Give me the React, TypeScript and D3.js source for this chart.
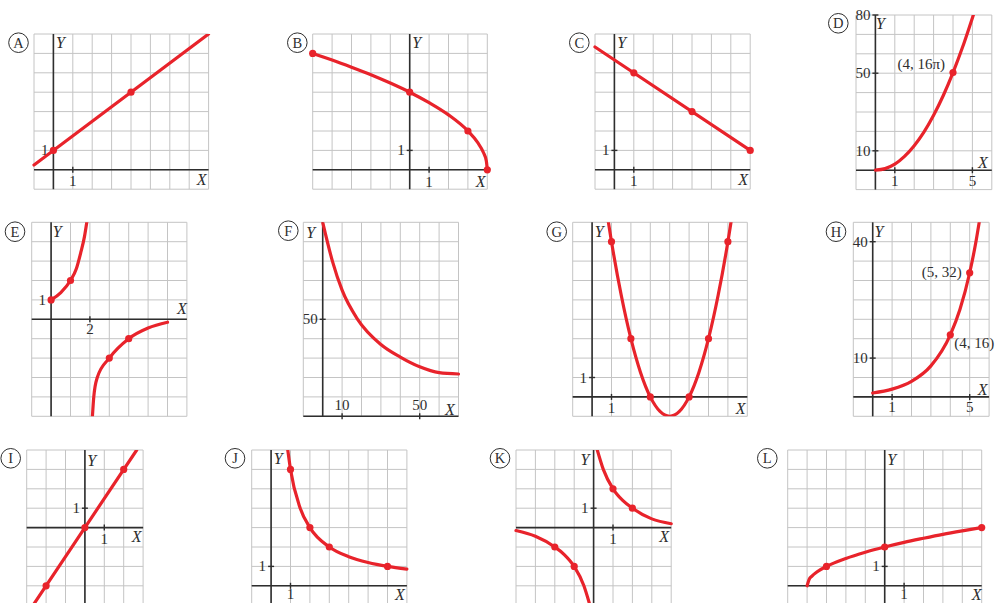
import { useEffect, useRef } from "react";
import * as d3 from "d3";

type Pt = [number, number];

// ---- values ----
const curveA: Pt[] = [[-1, 0.25], [8, 7]];
const dotsA: Pt[] = [[0, 1], [4, 4]];

const curveB: Pt[] = [
  [-5, 6], [-4, 5.66], [-3, 5.29], [-2, 4.9], [-1, 4.47], [0, 4], [1, 3.46],
  [2, 2.83], [3, 2], [3.5, 1.41], [3.8, 0.89], [3.95, 0.45], [4, 0]
];
const dotsB: Pt[] = [[-5, 6], [0, 4], [3, 2], [4, 0]];

const curveC: Pt[] = [[-1, 6.33], [7, 1]];
const dotsC: Pt[] = [[1, 5], [4, 3], [7, 1]];

const curveD: Pt[] = [
  [0, 0], [0.5, 0.8], [1, 3.1], [1.5, 7.1], [2, 12.6], [2.5, 19.6], [3, 28.3],
  [3.5, 38.5], [4, 50.3], [4.5, 63.6], [5, 78.5], [5.05, 80]
];
const dotsD: Pt[] = [[4, 50.3]];

const curveE1: Pt[] = [[0, 1], [0.5, 1.38], [1, 2], [1.3, 2.6], [1.52, 3.4], [1.72, 4.26], [1.84, 5]];
const curveE2: Pt[] = [[2.13, -5], [2.2, -4], [2.38, -3], [3, -2], [4, -1], [5, -0.45], [6, -0.15]];
const dotsE: Pt[] = [[0, 1], [1, 2], [3, -2], [4, -1]];

const curveF: Pt[] = [
  [0, 100], [5, 80], [10, 65], [18, 50], [30, 37], [40, 30.5], [50, 25.5], [60, 22.5], [70, 21.8]
];

const curveG: Pt[] = [
  [0.84, 9], [1, 8], [1.5, 5.25], [2, 3], [2.5, 1.25], [3, 0], [3.5, -0.75], [4, -1],
  [4.5, -0.75], [5, 0], [5.5, 1.25], [6, 3], [6.5, 5.25], [7, 8], [7.16, 9]
];
const dotsG: Pt[] = [[1, 8], [2, 3], [3, 0], [5, 0], [6, 3], [7, 8]];

const curveH: Pt[] = [[0, 1], [1, 2], [2, 4], [3, 8], [4, 16], [4.5, 22.6], [5, 32], [5.3, 39.4], [5.49, 45]];
const dotsH: Pt[] = [[4, 16], [5, 32]];

const curveI: Pt[] = [[-2.67, -4], [2.67, 4]];
const dotsI: Pt[] = [[-2, -3], [0, 0], [2, 3]];

const curveJ: Pt[] = [[0.86, 7], [1, 6], [1.5, 4], [2, 3], [3, 2], [4, 1.5], [5, 1.2], [6, 1], [7, 0.86]];
const dotsJ: Pt[] = [[1, 6], [2, 3], [3, 2], [6, 1]];

const curveK1: Pt[] = [[0.19, 4], [0.5, 3], [1, 2], [1.5, 1.4], [2, 1], [3, 0.45], [4, 0.2]];
const curveK2: Pt[] = [[-4, -0.15], [-3, -0.45], [-2, -1], [-1.5, -1.4], [-1, -2], [-0.5, -3], [-0.19, -4]];
const dotsK: Pt[] = [[1, 2], [2, 1], [-2, -1], [-1, -2]];

const curveL: Pt[] = [
  [-4, 0], [-3.9, 0.32], [-3.75, 0.5], [-3.5, 0.71], [-3, 1], [-2, 1.41], [-1, 1.73],
  [0, 2], [1, 2.24], [2, 2.45], [3, 2.65], [4, 2.83], [5, 3]
];
const dotsL: Pt[] = [[-3, 1], [0, 2], [5, 3]];

const letters = ["A", "B", "C", "D", "E", "F", "G", "H", "I", "J", "K", "L"];
const xTickValues = [[1], [1], [1], [1, 5], [2], [10, 50], [1], [1, 5], [1], [1], [1], [1]];
const yTickValues = [[1], [1], [1], [10, 50, 80], [1], [50], [1], [10, 40], [1], [1], [1], [1]];

const notesD = [{ at: [4, 50.3] as Pt, text: "(4, 16π)" }];
const notesH = [
  { at: [5, 32] as Pt, text: "(5, 32)" },
  { at: [4, 16] as Pt, text: "(4, 16)" }
];

// ---- layout of the twelve small grids ----
const CELL = 19.4;
const panels = [
  { left: 34, top: 34, cols: 9, rows: 8, x0: -1, xs: 1, y0: -1, ys: 1, curves: [curveA], dots: dotsA, badge: [18.5, 42.7], xl: [-7, 15], yl: [7, 14], xtd: 16 },
  { left: 312.7, top: 34, cols: 9, rows: 8, x0: -5, xs: 1, y0: -1, ys: 1, curves: [curveB], dots: dotsB, badge: [297.3, 42.7], xl: [-6.6, 17], yl: [7, 14], xtd: 17 },
  { left: 595, top: 34, cols: 8, rows: 8, x0: -1, xs: 1, y0: -1, ys: 1, curves: [curveC], dots: dotsC, badge: [579.3, 42.7], xl: [-7, 15], yl: [7.3, 14], xtd: 16 },
  { left: 856, top: 15, cols: 7, rows: 9, x0: -1, xs: 1, y0: -10, ys: 10, curves: [curveD], dots: dotsD, badge: [838.3, 23.3], xl: [-9, -2], yl: [5, 13.5], xtd: 16, notes: notesD },
  { left: 31.7, top: 222.3, cols: 8, rows: 10, x0: -1, xs: 1, y0: -5, ys: 1, curves: [curveE1, curveE2], dots: dotsE, badge: [15, 231.7], xl: [-5, -5], yl: [6.2, 14.7], xtd: 15 },
  { left: 303.3, top: 222.3, cols: 8, rows: 10, x0: -10, xs: 10, y0: 0, ys: 10, curves: [curveF], dots: [] as Pt[], badge: [288.3, 230.7], xl: [-8.5, -1.5], yl: [-12, 16], xtd: -6 },
  { left: 572.7, top: 222.3, cols: 9, rows: 10, x0: -1, xs: 1, y0: -1, ys: 1, curves: [curveG], dots: dotsG, badge: [556.7, 231.7], xl: [-6.6, 17], yl: [7.2, 14.7], xtd: 16 },
  { left: 853.3, top: 222.3, cols: 7, rows: 10, x0: -1, xs: 1, y0: -5, ys: 5, curves: [curveH], dots: dotsH, badge: [836, 231.7], xl: [-6.4, -2], yl: [6.3, 14.7], xtd: 15, notes: notesH },
  { left: 26.7, top: 450, cols: 6, rows: 8, x0: -3, xs: 1, y0: -4, ys: 1, curves: [curveI], dots: dotsI, badge: [10.7, 458.3], xl: [-6.4, 14], yl: [6.8, 16], xtd: 16 },
  { left: 251.7, top: 450, cols: 8, rows: 8, x0: -1, xs: 1, y0: -1, ys: 1, curves: [curveJ], dots: dotsJ, badge: [235, 458.3], xl: [-7, 14.5], yl: [7.2, 13.5], xtd: 13.5 },
  { left: 516, top: 450, cols: 8, rows: 8, x0: -4, xs: 1, y0: -4, ys: 1, curves: [curveK1, curveK2], dots: dotsK, badge: [500, 458.3], xl: [-7, 14], yl: [-8.6, 15], xtd: 16 },
  { left: 787.7, top: 450, cols: 10, rows: 8, x0: -5, xs: 1, y0: -1, ys: 1, curves: [curveL], dots: dotsL, badge: [767.3, 458.3], xl: [-5, 14], yl: [7, 15], xtd: 13.5 }
];

const RED = "#e8232b";
const INK = "#2e2e2e";
const FONT = "'Liberation Serif', 'DejaVu Serif', serif";

export default function App() {
  const svgRef = useRef<SVGSVGElement>(null);

  useEffect(() => {
    const width = 1005;
    const height = 603;
    const svg = d3.select(svgRef.current);
    svg.selectAll("*").remove();
    svg.attr("width", width).attr("height", height);

    svg.append("rect").attr("width", width).attr("height", height).attr("fill", "#ffffff");
    const defs = svg.append("defs");

    panels.forEach((p: any, i) => {
      const right = p.left + p.cols * CELL;
      const bottom = p.top + p.rows * CELL;
      const x = d3.scaleLinear().domain([p.x0, p.x0 + p.cols * p.xs]).range([p.left, right]);
      const y = d3.scaleLinear().domain([p.y0, p.y0 + p.rows * p.ys]).range([bottom, p.top]);
      const g = svg.append("g");

      // grid
      g.selectAll("line.vg")
        .data(d3.range(p.cols + 1))
        .enter()
        .append("line")
        .attr("x1", d => x(p.x0 + d * p.xs))
        .attr("x2", d => x(p.x0 + d * p.xs))
        .attr("y1", p.top)
        .attr("y2", bottom)
        .attr("stroke", "#c4c4c4")
        .attr("stroke-width", 1);

      g.selectAll("line.hg")
        .data(d3.range(p.rows + 1))
        .enter()
        .append("line")
        .attr("y1", d => y(p.y0 + d * p.ys))
        .attr("y2", d => y(p.y0 + d * p.ys))
        .attr("x1", p.left)
        .attr("x2", right)
        .attr("stroke", "#c4c4c4")
        .attr("stroke-width", 1);

      // axes
      const ax = x(0);
      const ay = y(0);
      g.append("line").attr("x1", p.left).attr("x2", right).attr("y1", ay).attr("y2", ay)
        .attr("stroke", INK).attr("stroke-width", 1.6);
      g.append("line").attr("x1", ax).attr("x2", ax).attr("y1", p.top).attr("y2", bottom)
        .attr("stroke", INK).attr("stroke-width", 1.6);

      // ticks and labels
      xTickValues[i].forEach(v => {
        g.append("line").attr("x1", x(v)).attr("x2", x(v)).attr("y1", ay - 3).attr("y2", ay + 3)
          .attr("stroke", INK).attr("stroke-width", 1.4);
        g.append("text")
          .attr("x", x(v))
          .attr("y", ay + p.xtd)
          .attr("text-anchor", "middle")
          .attr("font-family", FONT)
          .attr("font-size", "15px")
          .attr("fill", INK)
          .text(v);
      });
      yTickValues[i].forEach(v => {
        g.append("line").attr("x1", ax - 3).attr("x2", ax + 3).attr("y1", y(v)).attr("y2", y(v))
          .attr("stroke", INK).attr("stroke-width", 1.4);
        g.append("text")
          .attr("x", ax - 5)
          .attr("y", y(v) + 5)
          .attr("text-anchor", "end")
          .attr("font-family", FONT)
          .attr("font-size", "15px")
          .attr("fill", INK)
          .text(v);
      });

      // axis names
      g.append("text")
        .attr("x", right + p.xl[0])
        .attr("y", ay + p.xl[1])
        .attr("text-anchor", "middle")
        .attr("font-family", FONT)
        .attr("font-style", "italic")
        .attr("font-size", "16px")
        .attr("fill", INK)
        .text("X");
      g.append("text")
        .attr("x", ax + p.yl[0])
        .attr("y", p.top + p.yl[1])
        .attr("text-anchor", "middle")
        .attr("font-family", FONT)
        .attr("font-style", "italic")
        .attr("font-size", "16px")
        .attr("fill", INK)
        .text("Y");

      // curves, clipped to the grid
      const clipId = `clip-${i}`;
      defs.append("clipPath").attr("id", clipId)
        .append("rect").attr("x", p.left - 2).attr("y", p.top).attr("width", right - p.left + 4).attr("height", bottom - p.top);

      const line = d3.line<Pt>().x(d => x(d[0])).y(d => y(d[1])).curve(d3.curveMonotoneX);
      g.append("g").attr("clip-path", `url(#${clipId})`)
        .selectAll("path")
        .data(p.curves as Pt[][])
        .enter()
        .append("path")
        .attr("d", d => line(d))
        .attr("fill", "none")
        .attr("stroke", RED)
        .attr("stroke-width", 3.2)
        .attr("stroke-linecap", "round");

      g.selectAll("circle.dot")
        .data(p.dots as Pt[])
        .enter()
        .append("circle")
        .attr("cx", d => x(d[0]))
        .attr("cy", d => y(d[1]))
        .attr("r", 3.6)
        .attr("fill", RED);

      // point notes
      (p.notes || []).forEach((n: any, k: number) => {
        const px = x(n.at[0]);
        const py = y(n.at[1]);
        const after = i === 7 && k === 1;
        g.append("text")
          .attr("x", after ? px + 4 : px - 8)
          .attr("y", after ? py + 13 : i === 7 ? py + 4.5 : py - 4)
          .attr("text-anchor", after ? "start" : "end")
          .attr("font-family", FONT)
          .attr("font-size", "15px")
          .attr("fill", INK)
          .text(n.text);
      });

      // circled letter
      g.append("circle")
        .attr("cx", p.badge[0])
        .attr("cy", p.badge[1])
        .attr("r", 9.8)
        .attr("fill", "#fff")
        .attr("stroke", INK)
        .attr("stroke-width", 1);
      g.append("text")
        .attr("x", p.badge[0])
        .attr("y", p.badge[1] + 5)
        .attr("text-anchor", "middle")
        .attr("font-family", FONT)
        .attr("font-size", "14.5px")
        .attr("fill", INK)
        .text(letters[i]);
    });
  }, []);

  return (
    <div style={{ position: "absolute", left: 0, top: 0, width: 1005, height: 603, overflow: "hidden" }}>
      <svg ref={svgRef} style={{ display: "block" }}></svg>
    </div>
  );
}
